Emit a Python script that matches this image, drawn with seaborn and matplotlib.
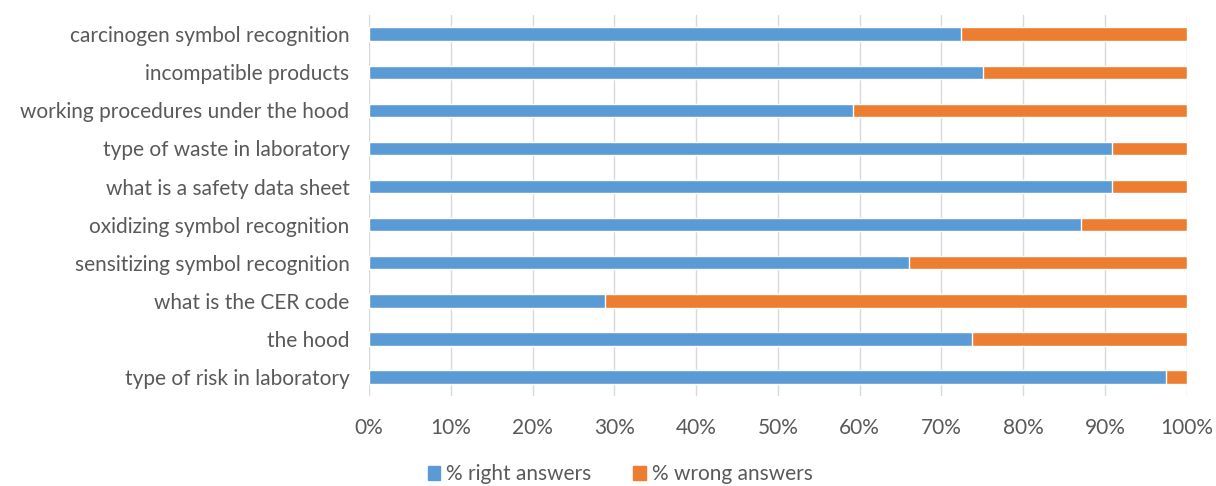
import numpy as np
import pandas as pd
import matplotlib
matplotlib.use("Agg")
import matplotlib.pyplot as plt
import seaborn as sns
from matplotlib.patches import Patch

questions = [
    "carcinogen symbol recognition",
    "incompatible products",
    "working procedures under the hood",
    "type of waste in laboratory",
    "what is a safety data sheet",
    "oxidizing symbol recognition",
    "sensitizing symbol recognition",
    "what is the CER code",
    "the hood",
    "type of risk in laboratory",
]
right_pct = [72.4, 75.1, 59.2, 90.9, 90.9, 87.0, 66.0, 28.9, 73.7, 97.5]
wrong_pct = [27.6, 24.9, 40.8, 9.1, 9.1, 13.0, 34.0, 71.1, 26.3, 2.5]
x_ticks = [0, 10, 20, 30, 40, 50, 60, 70, 80, 90, 100]

blue = "#5B9BD5"
orange = "#ED7D31"
text_col = "#595959"

df = pd.DataFrame({"question": questions, "right": right_pct, "wrong": wrong_pct})
df["total"] = df["right"] + df["wrong"]

sns.set_theme(style="white")
plt.rcParams["font.family"] = ["Lato", "DejaVu Sans"]

fig = plt.figure(figsize=(12.16, 4.86), dpi=100)
ax = fig.add_axes([0.3035, 0.185, 0.976 - 0.3035, 0.969 - 0.185])

sns.barplot(data=df, x="total", y="question", color=orange, width=0.35,
            saturation=1, ax=ax, zorder=2)
sns.barplot(data=df, x="right", y="question", color=blue, width=0.35,
            saturation=1, ax=ax, zorder=3)

ax.set_xlim(0, 100)
ax.set_xticks(x_ticks)
ax.set_xticklabels([f"{t}%" for t in x_ticks])
ax.grid(axis="x", color="#D9D9D9", linewidth=1, zorder=0)
ax.set_axisbelow(True)
ax.set_xlabel("")
ax.set_ylabel("")
for s in ax.spines.values():
    s.set_visible(False)
ax.tick_params(axis="both", length=0, colors=text_col, labelsize=15)
ax.tick_params(axis="x", pad=16)
ax.tick_params(axis="y", pad=14)

handles = [Patch(color=blue, label="% right answers"),
           Patch(color=orange, label="% wrong answers")]
fig.legend(handles=handles, loc="lower center", bbox_to_anchor=(0.51, -0.035),
           ncol=2, frameon=False, fontsize=15, labelcolor=text_col,
           handlelength=0.6, handleheight=0.6, handletextpad=0.3, columnspacing=2)

fig.savefig("out.png", dpi=100)
